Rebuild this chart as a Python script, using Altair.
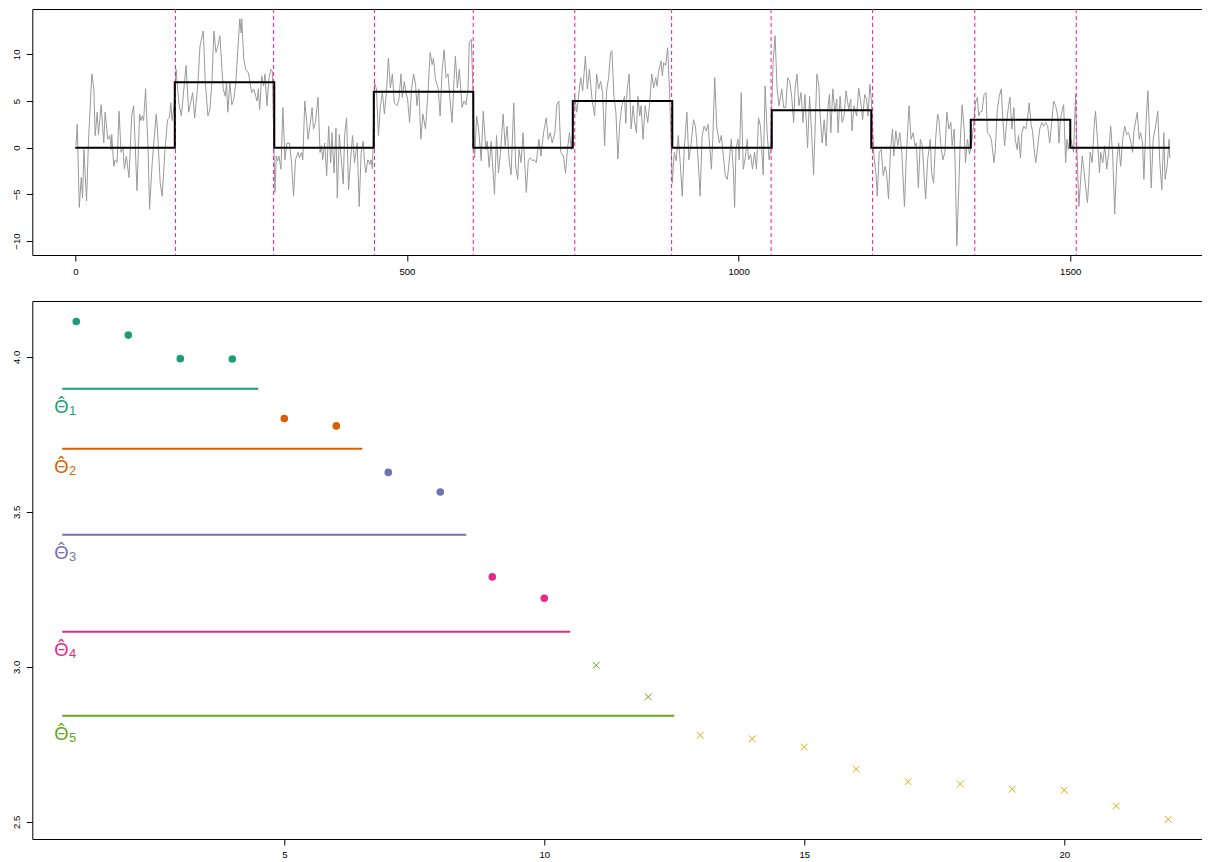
import altair as alt
import pandas as pd

# ---------------- top panel data ----------------
seg_a = [(1,0.2),(3,2.5),(6,-6.4),(9,-3.2),(11,-5.4),(13,-0.2),(17,-5.7),(20,0.9),(25,7.9),(28,6.3),
         (30,1.3),(33,3.8),(35,1.4),(39,4.6),(43,0.5),(45,3.8),(49,0.9),(52,1.3),(54,-0.2),(55,1.4),
         (58,-2.0),(60,-1.3),(63,-1.6),(66,3.9),(69,-0.5),(72,0.0),(74,-2.3),(77,-0.9),(81,-3.2),(85,3.4),
         (88,4.5),(93,-4.6),(97,3.6),(99,2.9),(101,3.4),(103,2.9),(106,6.3),(110,-0.7),(112,-6.6),(116,-1.6),
         (122,3.6),(124,1.8),(128,-3.8),(131,-5.2),(135,-0.5),(139,3.0),(142,3.2),(144,4.8),(146,2.9),(149,4.5)]
seg_b = [(152,8.4),(156,4.8),(160,3.4),(162,5.0),(167,8.8),(171,3.8),(173,4.5),(177,5.9),(180,3.2),(185,7.0),
         (188,10.9),(193,12.5),(196,7.0),(200,3.4),(203,4.1),(206,7.0),(209,12.5),(212,10.2),(215,10.9),(218,12.0),
         (223,6.3),(226,5.5),(228,7.0),(230,3.8),(233,7.0),(236,4.6),(239,5.2),(242,7.0),(248,13.8),(250,12.3),
         (251,13.8),(254,9.5),(257,8.4),(261,8.0),(266,5.9),(269,6.3),(272,5.5),(274,5.0),(276,6.3),(278,4.1),
         (281,7.7),(284,6.6),(286,7.9),(289,4.5),(292,7.5),(295,8.4),(297,8.2)]
seg_c = [(301,-4.8),(303,-0.9),(305,-1.4),(307,-0.9),(310,-2.3),(313,4.3),(316,-1.3),(319,0.5),(323,0.5),(326,-1.6),
         (329,-5.2),(332,-1.3),(336,-0.5),(338,-1.1),(341,-0.5),(343,-1.3),(346,5.0),(349,2.7),(351,0.9),(355,3.0),
         (357,4.3),(359,2.0),(362,2.7),(366,5.4),(369,-0.5),(371,0.2),(373,-1.3),(376,0.5),(379,-3.0),(382,2.3),
         (385,-1.6),(387,1.6),(390,-2.7),(393,2.1),(395,-5.4),(398,1.4),(401,-1.3),(404,-3.9),(406,1.3),(409,3.2),
         (412,-4.5),(415,-1.3),(418,1.3),(421,-1.6),(425,0.5),(428,-6.3),(431,-0.5),(434,0.7),(436,-1.6),(438,-2.7),
         (441,-1.3),(444,-1.8),(446,-1.3),(448,-2.3)]
seg_d = [(451,7.0),(454,6.3),(457,1.3),(460,4.5),(463,5.9),(466,3.6),(469,5.9),(472,9.6),(475,6.4),(478,7.9),
         (481,4.8),(485,4.5),(488,5.2),(491,7.9),(493,5.4),(496,7.1),(499,5.7),(501,5.2),(504,2.7),(507,6.3),
         (510,7.9),(513,6.8),(515,4.5),(518,6.3),(521,0.9),(524,3.6),(528,2.0),(532,6.3),(535,10.2),(538,8.9),
         (540,9.6),(543,7.3),(547,6.4),(550,3.4),(553,8.2),(556,10.5),(559,7.5),(562,7.9),(564,5.9),(568,2.7),
         (571,7.3),(573,9.8),(576,6.4),(579,8.4),(583,4.3),(586,5.0),(589,4.6),(592,6.3),(594,11.3),(597,11.6),
         (599,7.3)]
seg_e = [(602,-1.1),(605,3.4),(608,2.0),(612,-1.4),(615,3.9),(619,-0.2),(621,0.7),(624,-2.1),(627,0.7),(629,-1.6),
         (632,-5.0),(635,1.3),(638,-2.7),(641,-0.5),(645,3.6),(648,0.2),(651,2.3),(654,-1.3),(657,-2.9),(661,4.8),
         (664,-2.0),(667,-3.4),(669,-0.2),(672,-1.6),(675,1.6),(680,-4.8),(683,-1.3),(686,-1.1),(689,-1.4),(692,-1.3),
         (695,-1.6),(699,0.9),(702,-0.9),(706,1.6),(710,3.2),(713,0.9),(716,1.6),(719,0.5),(723,1.6),(726,4.6),
         (729,5.0),(732,-0.5),(736,-0.9),(739,-2.7),(742,-0.2),(745,1.6),(748,-0.2)]
seg_f = [(753,5.5),(756,3.8),(759,5.7),(762,7.5),(765,6.1),(769,9.8),(772,6.3),(775,8.4),(779,5.2),(783,3.4),
         (786,7.9),(789,6.3),(792,7.1),(795,5.9),(798,0.2),(801,6.1),(804,7.5),(807,10.2),(809,10.4),(812,5.5),
         (815,3.8),(818,-1.2),(821,2.7),(824,4.5),(828,5.5),(830,2.6),(832,6.3),(835,7.9),(838,2.0),(841,4.5),
         (843,2.9),(846,1.6),(848,5.5),(851,3.4),(853,4.5),(856,0.9),(859,4.5),(863,2.7),(866,4.8),(869,7.9),
         (872,6.4),(875,7.5),(877,6.6),(879,8.0),(883,9.3),(885,7.7),(887,9.1),(890,8.8),(893,10.7),(896,5.9)]
seg_g = [(900,-3.8),(903,-0.5),(906,-1.4),(909,1.3),(912,-1.6),(915,-5.2),(918,-0.2),(922,3.8),(925,-1.3),(928,0.2),
         (932,3.0),(935,2.3),(939,-1.3),(942,-5.2),(945,1.3),(948,2.3),(951,1.8),(954,2.5),(956,0.5),(959,-2.3),
         (961,0.9),(964,7.5),(967,2.3),(971,0.5),(974,1.3),(977,-0.9),(980,-3.0),(983,-3.4),(986,-1.3),(989,0.9),
         (992,-2.3),(994,-6.4),(996,-0.2),(999,0.9),(1001,-1.3),(1004,5.9),(1007,-2.3),(1010,-1.1),(1013,0.9),(1015,-1.3),
         (1018,-0.7),(1021,-2.3),(1024,-0.5),(1027,-2.3),(1030,3.2),(1033,2.3),(1037,-2.9),(1040,6.6),(1043,1.6),(1046,-1.3),
         (1048,-0.2)]
seg_h = [(1052,9.1),(1055,12.0),(1058,6.3),(1061,4.5),(1065,6.3),(1068,4.3),(1071,4.3),(1074,7.5),(1077,7.1),(1080,5.5),
         (1083,2.7),(1085,6.3),(1088,7.9),(1091,4.5),(1094,5.9),(1097,2.7),(1100,5.7),(1104,0.0),(1107,5.5),(1109,3.0),
         (1111,0.2),(1113,-2.9),(1116,3.4),(1118,7.9),(1121,6.6),(1123,3.4),(1126,0.5),(1129,3.0),(1132,0.2),(1134,3.8),
         (1137,5.7),(1139,1.6),(1142,6.3),(1145,3.8),(1148,5.2),(1150,1.6),(1153,5.5),(1156,2.7),(1159,3.4),(1162,6.1),
         (1166,4.1),(1169,5.2),(1171,1.8),(1174,4.5),(1178,3.4),(1181,6.4),(1184,5.0),(1187,3.0),(1190,5.7),(1193,5.2),
         (1195,3.4),(1198,6.8),(1200,5.2)]
seg_i = [(1204,-0.9),(1207,-2.7),(1209,-5.2),(1212,-0.5),(1215,-0.2),(1218,-3.0),(1221,-2.0),(1223,-2.7),(1226,-5.5),(1229,-0.2),
         (1232,2.0),(1234,-0.9),(1237,1.8),(1240,0.2),(1243,1.6),(1246,-0.5),(1250,-6.3),(1253,-0.5),(1257,4.5),(1260,0.9),
         (1263,1.6),(1266,0.2),(1268,0.5),(1271,-4.3),(1274,0.9),(1277,0.2),(1280,-3.4),(1282,-5.5),(1285,-1.3),(1289,0.9),
         (1291,-2.7),(1294,-3.8),(1297,0.9),(1300,3.6),(1302,3.0),(1305,0.2),(1308,-1.3),(1311,-0.5),(1314,3.8),(1317,2.0),
         (1320,2.7),(1322,0.2),(1325,2.0),(1327,-3.4),(1329,-10.5),(1332,-4.1),(1334,0.5),(1337,4.6),(1340,2.0),(1342,-1.6),
         (1345,0.9),(1348,-0.7),(1351,0.2)]
seg_j = [(1354,2.3),(1357,4.8),(1360,5.4),(1362,3.4),(1364,3.8),(1367,3.9),(1370,5.7),(1373,5.9),(1375,1.6),(1378,1.4),
         (1381,0.9),(1385,-1.6),(1387,-0.2),(1390,4.1),(1393,5.5),(1396,6.3),(1398,3.4),(1401,0.2),(1404,2.7),(1407,4.5),
         (1409,5.4),(1412,2.0),(1415,4.3),(1417,0.9),(1420,-0.2),(1422,1.3),(1425,-1.1),(1427,1.6),(1430,2.3),(1433,2.0),
         (1436,3.4),(1438,4.8),(1441,2.5),(1443,1.8),(1446,-0.5),(1448,-1.6),(1451,0.2),(1454,2.0),(1457,2.7),(1460,2.3),
         (1463,2.7),(1466,2.3),(1469,0.5),(1472,2.7),(1475,5.0),(1478,4.5),(1481,3.4),(1483,0.5),(1485,3.0),(1488,4.1),
         (1490,4.6),(1493,-1.6),(1495,0.9),(1497,-0.2),(1500,1.3)]
seg_k = [(1502,0.5),(1505,-0.5),(1508,5.7),(1510,-0.2),(1513,-6.3),(1515,-4.1),(1518,-0.9),(1520,-2.0),(1523,-4.1),(1526,-5.9),
         (1528,-3.4),(1530,-0.5),(1533,-1.6),(1536,2.3),(1538,3.9),(1541,0.9),(1544,-2.7),(1546,-0.5),(1549,-1.6),(1552,0.2),
         (1555,-2.3),(1558,-0.5),(1561,2.3),(1564,-0.9),(1567,-7.1),(1570,-1.6),(1573,0.5),(1576,-2.0),(1579,0.9),(1582,2.3),
         (1585,1.4),(1588,1.6),(1591,0.7),(1594,-0.5),(1596,1.8),(1599,3.0),(1601,3.8),(1604,0.9),(1606,1.6),(1609,0.5),
         (1611,-3.4),(1614,2.3),(1617,6.1),(1620,0.5),(1622,-4.3),(1625,0.9),(1628,2.0),(1632,3.9),(1635,-1.6),(1638,-4.5),
         (1641,1.6),(1643,-3.4),(1646,-2.0),(1649,0.9),(1650,-1.1)]

truth_t = [0, 150, 300, 450, 600, 750, 900, 1050, 1200, 1350, 1500, 1650]
truth_v = [0, 7, 0, 6, 0, 5, 0, 4, 0, 3, 0, 0]
cpt_est = [151, 299, 451, 600, 753, 899, 1049, 1202, 1356, 1509]

# ---------------- bottom panel data ----------------
k_idx = list(range(1, 23))
k_val = [4.114, 4.070, 3.994, 3.993, 3.801, 3.777, 3.627, 3.564, 3.290, 3.221, 3.005,
         2.903, 2.779, 2.768, 2.741, 2.670, 2.629, 2.622, 2.605, 2.602, 2.551, 2.508]
k_grp = ["1"] * 4 + ["2"] * 2 + ["3"] * 2 + ["4"] * 2 + ["5"] * 2 + ["6"] * 10
thr_grp = ["1", "2", "3", "4", "5"]
thr_val = [3.897, 3.703, 3.426, 3.113, 2.842]
thr_x0 = [0.73, 0.73, 0.73, 0.73, 0.73]
thr_x1 = [4.5, 6.5, 8.5, 10.5, 12.5]
thr_theta = ["\u0398\u0302"] * 5
thr_sub = ["1", "2", "3", "4", "5"]
lab_x = [0.57, 0.57, 0.57, 0.57, 0.57]
dark2 = ["#1B9E77", "#D95F02", "#7570B3", "#E7298A", "#66A61E", "#E6AB02"]

# ---------------- frames ----------------
gray = []
for s in [seg_a, seg_b, seg_c, seg_d, seg_e, seg_f, seg_g, seg_h, seg_i, seg_j, seg_k]:
    gray.extend(s)
df_gray = pd.DataFrame(gray, columns=["t", "v"])
df_truth = pd.DataFrame({"t": truth_t, "v": truth_v})
df_cpt = pd.DataFrame({"cp": cpt_est})
df_pts = pd.DataFrame({"k": k_idx, "val": k_val, "grp": k_grp})
df_thr = pd.DataFrame({"grp": thr_grp, "y": thr_val, "x0": thr_x0, "x1": thr_x1,
                       "lx": lab_x, "th": thr_theta, "sub": thr_sub})

W = 1178
x_top = alt.Scale(domain=[-64.8, 1711.1], nice=False, zero=False)
y_top = alt.Scale(domain=[-11.5, 14.86], nice=False, zero=False)
x_bot = alt.Scale(domain=[0.154, 22.808], nice=False, zero=False)
y_bot = alt.Scale(domain=[2.4445, 4.18], nice=False, zero=False)
col = alt.Scale(domain=["1", "2", "3", "4", "5", "6"], range=dark2)

yax = dict(title=None, labelAngle=-90, labelAlign="center", labelBaseline="bottom")

gl = alt.Chart(df_gray).mark_line(color="#9a9a9a", strokeWidth=1).encode(
    x=alt.X("t:Q", scale=x_top, axis=alt.Axis(values=[0, 500, 1000, 1500], format="d", title=None)),
    y=alt.Y("v:Q", scale=y_top, axis=alt.Axis(values=[-10, -5, 0, 5, 10], format="d", **yax)),
)
st = alt.Chart(df_truth).mark_line(color="black", strokeWidth=2, interpolate="step-after").encode(
    x=alt.X("t:Q", scale=x_top), y=alt.Y("v:Q", scale=y_top)
)
cp = alt.Chart(df_cpt).mark_rule(color="#FF1493", strokeWidth=1, strokeDash=[4, 3]).encode(
    x=alt.X("cp:Q", scale=x_top)
)
top = alt.layer(gl, cp, st).properties(width=W, height=246)

rl = alt.Chart(df_thr).mark_rule(strokeWidth=2).encode(
    x=alt.X("x0:Q", scale=x_bot, axis=alt.Axis(values=[5, 10, 15, 20], format="d", title=None)),
    x2="x1:Q",
    y=alt.Y("y:Q", scale=y_bot, axis=alt.Axis(values=[2.5, 3.0, 3.5, 4.0], format=".1f", **yax)),
    color=alt.Color("grp:N", scale=col, legend=None),
)
circ = alt.Chart(df_pts).transform_filter("datum.k <= 10").mark_circle(size=58, opacity=1).encode(
    x=alt.X("k:Q", scale=x_bot), y=alt.Y("val:Q", scale=y_bot),
    color=alt.Color("grp:N", scale=col, legend=None),
)
crs = alt.Chart(df_pts).transform_filter("datum.k > 10").mark_point(
    shape="M-1,-1L1,1M-1,1L1,-1", size=46, filled=False, strokeWidth=1, opacity=1
).encode(
    x=alt.X("k:Q", scale=x_bot), y=alt.Y("val:Q", scale=y_bot),
    color=alt.Color("grp:N", scale=col, legend=None),
)
theta = alt.Chart(df_thr).mark_text(
    align="left", baseline="alphabetic", font="Noto Sans", fontSize=19, dy=24.5
).encode(
    x=alt.X("lx:Q", scale=x_bot), y=alt.Y("y:Q", scale=y_bot), text="th:N",
    color=alt.Color("grp:N", scale=col, legend=None),
)
sub = alt.Chart(df_thr).mark_text(
    align="left", baseline="alphabetic", font="Liberation Sans", fontSize=13, dx=15, dy=26.5
).encode(
    x=alt.X("lx:Q", scale=x_bot), y=alt.Y("y:Q", scale=y_bot), text="sub:N",
    color=alt.Color("grp:N", scale=col, legend=None),
)
bottom = alt.layer(rl, circ, crs, theta, sub).properties(width=W, height=538)

chart = alt.vconcat(top, bottom, spacing=46, bounds="flush").properties(
    padding={"left": 2.3, "top": 0, "right": -9.5, "bottom": 0}
).configure_view(stroke="black", strokeWidth=1).configure_axis(
    domain=False, grid=False, ticks=True, tickColor="black", tickSize=6, tickWidth=1,
    labelFont="Liberation Sans", labelFontSize=9.6, labelColor="black", labelPadding=5,
)

chart.save("out.html", embed_options={"renderer": "svg", "actions": False})
